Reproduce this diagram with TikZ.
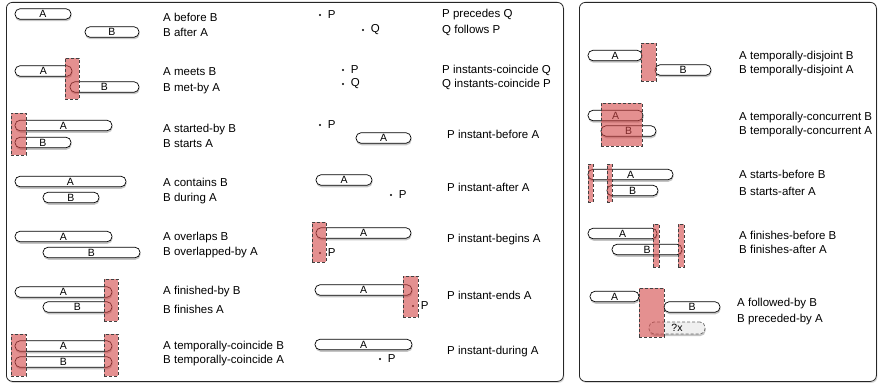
\documentclass[tikz,border=0pt]{standalone}
\usepackage{fontspec}
\setmainfont{Liberation Sans}
\usetikzlibrary{shadows}
\definecolor{hlred}{RGB}{210,70,70}

\begin{document}
\begin{tikzpicture}[x=1pt, y=-1pt,
      panel/.style = {draw=black!85, line width=0.8pt, rounded corners=6pt,
        fill=white, inner sep=0pt, anchor=north west,
        drop shadow={shadow xshift=1pt, shadow yshift=-1.5pt, opacity=0.3}},
      bar/.style = {draw, fill=white, rounded corners=5pt, line width=0.7pt,
        minimum height=10.5pt, inner sep=0pt,
        font=\fontsize{10.5}{11}\selectfont,
        drop shadow={shadow xshift=0.5pt, shadow yshift=-2pt, opacity=0.45}},
      ghost/.style = {bar, draw=black!60, dash pattern=on 3pt off 2pt, fill=black!6},
      hl/.style = {draw=black!75, dash pattern=on 3pt off 2pt, line width=0.7pt,
        fill=hlred, fill opacity=0.6, inner sep=0pt},
      rel/.style = {anchor=west, inner sep=0pt, font=\fontsize{11.5}{13}\selectfont},
      instant/.style = {circle, fill, inner sep=0pt, minimum size=2.4pt,
        label={[font=\fontsize{11.5}{13}\selectfont, label distance=3pt]right:#1}}]
  \useasboundingbox (0,0) rectangle (880,385);
  % the two panels
  \node[panel, minimum width=557, minimum height=379] (left) at (6,2) {};
  \node[panel, minimum width=297, minimum height=379] (right) at (579,2) {};

  % interval relations
  \node[bar, minimum width=56] (a1) at (43,14) {A};
  \node[bar, minimum width=54] (b1) at (112,32) {B};
  \node[rel] (r1a) at (163,17) {A before B};
  \node[rel] (r1b) at (163,32) {B after A};

  \node[bar, minimum width=57] (a2) at (43.5,71) {A};
  \node[bar, minimum width=69] (b2) at (104.5,87) {B};
  \node[hl, minimum width=14, minimum height=41] (h2) at (72,78.5) {};
  \node[rel] (r2a) at (163,72) {A meets B};
  \node[rel] (r2b) at (163,89) {B met-by A};

  \node[bar, minimum width=97] (a3) at (63.5,125.5) {A};
  \node[bar, minimum width=56] (b3) at (43,142.5) {B};
  \node[hl, minimum width=15, minimum height=42] (h3) at (18.5,134) {};
  \node[rel] (r3a) at (163,130) {A started-by B};
  \node[rel] (r3b) at (163,144) {B starts A};

  \node[bar, minimum width=111] (a4) at (70.5,181.5) {A};
  \node[bar, minimum width=56] (b4) at (71,197.5) {B};
  \node[rel] (r4a) at (163,182) {A contains B};
  \node[rel] (r4b) at (163,199) {B during A};

  \node[bar, minimum width=97] (a5) at (63.5,236.5) {A};
  \node[bar, minimum width=97] (b5) at (91.5,252.5) {B};
  \node[rel] (r5a) at (163,238) {A overlaps B};
  \node[rel] (r5b) at (163,253) {B overlapped-by A};

  \node[bar, minimum width=97] (a6) at (63.5,292) {A};
  \node[bar, minimum width=69] (b6) at (77.5,307) {B};
  \node[hl, minimum width=14, minimum height=42] (h6) at (111,300) {};
  \node[rel] (r6a) at (163,292) {A finished-by B};
  \node[rel] (r6b) at (163,309) {B finishes A};

  \node[bar, minimum width=97] (a7) at (63.5,346) {A};
  \node[bar, minimum width=97] (b7) at (63.5,362) {B};
  \node[hl, minimum width=15, minimum height=42] (h7a) at (18.5,355) {};
  \node[hl, minimum width=14, minimum height=42] (h7b) at (111,355) {};
  \node[rel] (r7a) at (163,347) {A temporally-coincide B};
  \node[rel] (r7b) at (163,361) {B temporally-coincide A};

  % instants
  \node[instant=P] (p1) at (320,15) {};
  \node[instant=Q] (q1) at (363,30) {};
  \node[rel] (r8a) at (442,15) {P precedes Q};
  \node[rel] (r8b) at (442,30) {Q follows P};

  \node[instant=P] (p2) at (343,70) {};
  \node[instant=Q] (q2) at (343,84) {};
  \node[rel] (r9a) at (442,70) {P instants-coincide Q};
  \node[rel] (r9b) at (442,84) {Q instants-coincide P};

  \node[instant=P] (p3) at (320,125) {};
  \node[bar, minimum width=55] (a10) at (383.5,138) {A};
  \node[rel] (r10) at (447,134) {P instant-before A};

  \node[bar, minimum width=56] (a11) at (344,180) {A};
  \node[instant=P] (p4) at (391,195) {};
  \node[rel] (r11) at (447,187) {P instant-after A};

  \node[bar, minimum width=95] (a12) at (363.5,233) {A};
  \node[instant=P] (p5) at (320,253) {};
  \node[hl, minimum width=14, minimum height=40] (h12) at (319,242) {};
  \node[rel] (r12) at (447,240) {P instant-begins A};

  \node[bar, minimum width=97] (a13) at (363.5,290) {A};
  \node[instant=P] (p6) at (413,306) {};
  \node[hl, minimum width=15, minimum height=41] (h13) at (410.5,296.5) {};
  \node[rel] (r13) at (447,295) {P instant-ends A};

  \node[bar, minimum width=97] (a14) at (363.5,344.5) {A};
  \node[instant=P] (p7) at (380,359) {};
  \node[rel] (r14) at (447,352) {P instant-during A};

  % right panel
  \node[bar, minimum width=54] (a15) at (615,55.5) {A};
  \node[bar, minimum width=56] (b15) at (683,70) {B};
  \node[hl, minimum width=15, minimum height=38] (h15) at (648.5,62) {};
  \node[rel] (r15a) at (739,57) {A temporally-disjoint B};
  \node[rel] (r15b) at (739,71) {B temporally-disjoint A};

  \node[bar, minimum width=55] (a16) at (615.5,115.5) {A};
  \node[bar, minimum width=55] (b16) at (628.5,131) {B};
  \node[hl, minimum width=41, minimum height=43] (h16) at (621.5,124.5) {};
  \node[rel] (r16a) at (739,118) {A temporally-concurrent B};
  \node[rel] (r16b) at (739,132) {B temporally-concurrent A};

  \node[bar, minimum width=85] (a17) at (630.5,174.5) {A};
  \node[bar, minimum width=51] (b17) at (632.5,190.5) {B};
  \node[hl, minimum width=5, minimum height=38] (h17a) at (590.5,183) {};
  \node[hl, minimum width=5, minimum height=38] (h17b) at (609.5,183) {};
  \node[rel] (r17a) at (739,174) {A starts-before B};
  \node[rel] (r17b) at (739,191) {B starts-after A};

  \node[bar, minimum width=69] (a18) at (622.5,233.5) {A};
  \node[bar, minimum width=70] (b18) at (647,249.5) {B};
  \node[hl, minimum width=6, minimum height=43] (h18a) at (656,245.5) {};
  \node[hl, minimum width=6, minimum height=43] (h18b) at (681,245.5) {};
  \node[rel] (r18a) at (739,235) {A finishes-before B};
  \node[rel] (r18b) at (739,249) {B finishes-after A};

  \node[bar, minimum width=49] (a19) at (614.5,296.5) {A};
  \node[bar, minimum width=56] (b19) at (692,307) {B};
  \node[ghost, minimum width=56, minimum height=12] (x19) at (677,328) {?x};
  \node[hl, minimum width=25, minimum height=49] (h19) at (651.5,312.5) {};
  \node[rel] (r19a) at (737,304) {A followed-by B};
  \node[rel] (r19b) at (737,320) {B preceded-by A};
\end{tikzpicture}
\end{document}
